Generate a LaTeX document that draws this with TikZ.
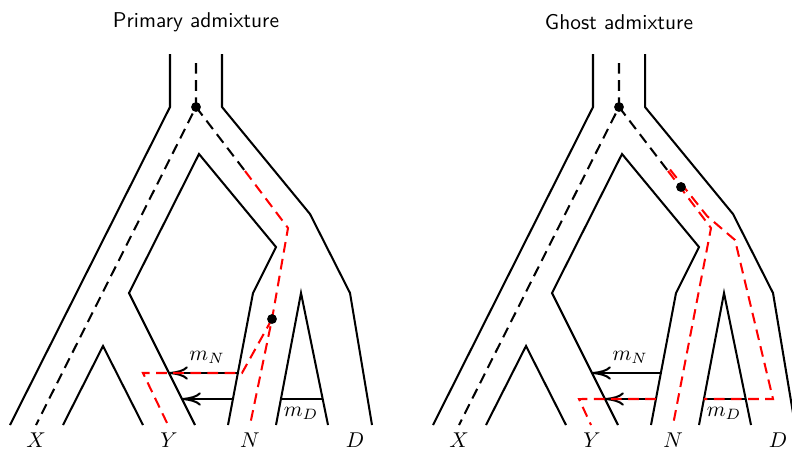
\documentclass[tikz,border=0pt]{standalone}
\usetikzlibrary{arrows.meta,calc}

\tikzset{
  wall/.style={line width=0.95pt},
  gene/.style={line width=0.95pt, dash pattern=on 5pt off 3pt},
  genered/.style={gene, red},
  flow/.style={line width=0.95pt, -{Computer Modern Rightarrow[length=8.8pt,width=6.2pt]}},
  coal/.style={circle, fill=black, inner sep=0pt, minimum size=4.6pt},
  paneltitle/.style={font=\sffamily}
}

% Population tree outline, migration edges and the two black lineages
\newcommand\poptree{%
  \coordinate (tl) at (170,54);
  \coordinate (bl) at (170,107);
  \coordinate (xl) at (10,425);
  \coordinate (tr) at (222,54);
  \coordinate (br) at (222,107);
  \coordinate (r1) at (310,214);
  \coordinate (r2) at (350,293);
  \coordinate (rf) at (372,425);
  \coordinate (xyl) at (63,425);
  \coordinate (xya) at (103,346);
  \coordinate (xyr) at (143,425);
  \coordinate (yf) at (195,425);
  \coordinate (yk) at (129,293);
  \coordinate (ia) at (199,154);
  \coordinate (ik) at (276,247);
  \coordinate (nk) at (253,293);
  \coordinate (nf) at (228,425);
  \coordinate (dl) at (276,425);
  \coordinate (da) at (301,293);
  \coordinate (dr) at (328,425);
  \draw[wall] (tl) -- (bl) -- (xl);
  \draw[wall] (tr) -- (br) -- (r1) -- (r2) -- (rf);
  \draw[wall] (xyl) -- (xya) -- (xyr);
  \draw[wall] (yf) -- (yk) -- (ia) -- (ik) -- (nk) -- (nf);
  \draw[wall] (dl) -- (da) -- (dr);
  % migration edges
  \coordinate (mNfrom) at ($(nk)!0.606!(nf)$);
  \coordinate (mNto) at ($(yk)!0.606!(yf)$);
  \coordinate (mLfrom) at ($(nk)!0.803!(nf)$);
  \coordinate (mLto) at ($(yk)!0.803!(yf)$);
  \coordinate (mDl) at ($(da)!0.803!(dl)$);
  \coordinate (mDr) at ($(da)!0.803!(dr)$);
  \draw[flow] (mNfrom) -- (mNto);
  \draw[flow] (mLfrom) -- (mLto);
  \draw[wall] (mDl) -- (mDr);
  \node (mN) at (207,357) {$m_N$};
  \node (mD) at (301,413) {$m_D$};
  % gene lineages
  \coordinate (g0) at (196,63);
  \coordinate (c1) at (196,107);
  \coordinate (gx) at (36,425);
  \coordinate (gs) at (245,171);
  \draw[gene] (g0) -- (c1) -- (gx);
  \draw[gene] (c1) -- (gs);
  % sample labels
  \node (X) at (36,440) {$X$};
  \node (Y) at (169,440) {$Y$};
  \node (N) at (250,440) {$N$};
  \node (D) at (355,440) {$D$};
}

\begin{document}
\begin{tikzpicture}[x=0.4672pt, y=-0.4672pt]
\useasboundingbox (0,0) rectangle (792,451);

% Primary admixture
\begin{scope}[name prefix=L-]
  \poptree
  \node[paneltitle] (title) at (196,22) {Primary admixture};
  \coordinate (c2) at (272,319);
  \coordinate (rk) at (288,228);
  \coordinate (nr) at (250,425);
  \coordinate (me) at (242,373);
  \coordinate (mw) at (143,373);
  \coordinate (yr) at (168,425);
  \draw[genered] (gs) -- (rk) -- (c2) -- (nr);
  \draw[genered] (c2) -- (me) -- (mw) -- (yr);
  \node[coal] (c1dot) at (c1) {};
  \node[coal] (c2dot) at (c2) {};
\end{scope}

% Ghost admixture
\begin{scope}[shift={(423,0)}, name prefix=R-]
  \poptree
  \node[paneltitle] (title) at (196,22) {Ghost admixture};
  \coordinate (c2) at (258,187);
  \coordinate (rk) at (288,228);
  \coordinate (nr) at (250,425);
  \coordinate (gs2) at (247,169.5);
  \coordinate (bk1) at (284,216);
  \coordinate (bk2) at (312,240);
  \coordinate (gr) at (350,399);
  \coordinate (mw) at (156,399);
  \coordinate (yr) at (168,425);
  \draw[genered] (gs) -- (rk) -- (nr);
  \draw[genered] (gs2) -- (bk1) -- (bk2) -- (gr) -- (mDl);
  \draw[genered] (mLfrom) -- (mw) -- (yr);
  \node[coal] (c1dot) at (c1) {};
  \node[coal] (c2dot) at (c2) {};
\end{scope}
\end{tikzpicture}
\end{document}
